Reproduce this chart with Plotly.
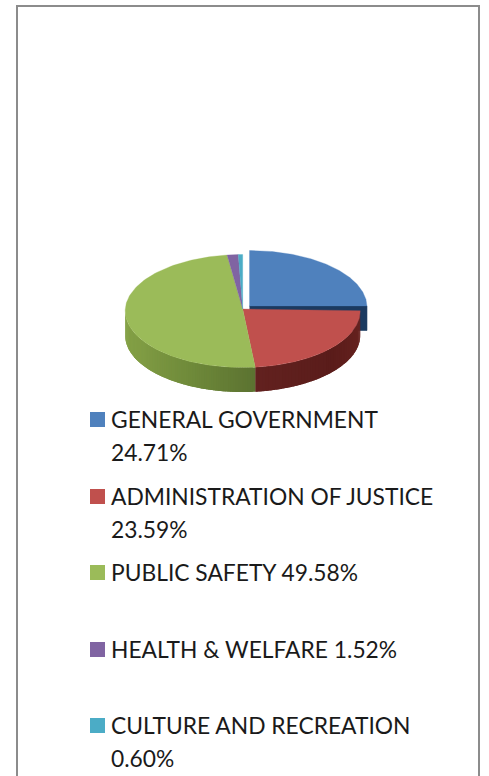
import numpy as np
import plotly.graph_objects as go

categories = ["GENERAL GOVERNMENT", "ADMINISTRATION OF JUSTICE", "PUBLIC SAFETY",
              "HEALTH & WELFARE", "CULTURE AND RECREATION"]
shares = [24.71, 23.59, 49.58, 1.52, 0.60]
top_colors = ["#4f81bd", "#c0504d", "#9bbb59", "#8064a2", "#4bacc6"]

# Pie projection, in page pixels
CX, CY, APEX_Y = 242.7, 311.0, 309.0
RX, RY = 117.5, 56.5
DEPTH = 24.5
BLUE_DX, BLUE_DY = 6.8, -4.0      # first slice is pulled out of the pie
BLUE_APEX_Y = 306.0
W, H = 489, 776

fig = go.Figure()


def rim(a0, a1, dx=0.0, dy=0.0, n=120):
    """Points on the elliptical rim; angles run clockwise from 12 o'clock."""
    t = np.radians(np.linspace(a0, a1, n))
    return CX + dx + RX * np.sin(t), CY + dy - RY * np.cos(t)


def polygon(x, y, color, edge=0.6):
    fig.add_trace(go.Scatter(x=list(x), y=list(y), mode="lines", fill="toself",
                             fillcolor=color, line=dict(color=color, width=edge),
                             hoverinfo="skip", showlegend=False))


def blend(c0, c1, f):
    a = [int(c0[i:i + 2], 16) for i in (1, 3, 5)]
    b = [int(c1[i:i + 2], 16) for i in (1, 3, 5)]
    return "rgb(%d,%d,%d)" % tuple(round(p + (q - p) * f) for p, q in zip(a, b))


def wall(a0, a1, stops, steps=40):
    """Front wall of a slice, shaded with short strips running along the rim."""
    edges = np.linspace(a0, a1, steps + 1)
    for i in range(steps):
        x, y = rim(edges[i], min(edges[i + 1] + 1.5, a1), n=10)
        f = i / max(steps - 1, 1)
        pos = f * (len(stops) - 1)
        k = min(int(pos), len(stops) - 2)
        polygon(np.r_[x, x[::-1]], np.r_[y, y[::-1] + DEPTH],
                blend(stops[k], stops[k + 1], pos - k), edge=0)


edges = 3.6 * np.cumsum([0] + shares)

# Side walls first, so the top faces sit over them
x, y = rim(edges[0], edges[1], BLUE_DX, BLUE_DY)
apex_x = CX + BLUE_DX
polygon([apex_x, x[-1], x[-1], apex_x],
        [BLUE_APEX_Y, y[-1], y[-1] + DEPTH, BLUE_APEX_Y + DEPTH], "#1b3a60")

wall(edges[1], edges[2], ["#6a2421", "#5a1c1a", "#62211f"], steps=50)
wall(edges[2], 270, ["#5c7331", "#6f8a3a", "#7f9b43", "#86a347"], steps=80)

# Top faces
for i, color in enumerate(top_colors):
    dx, dy, ay = (BLUE_DX, BLUE_DY, BLUE_APEX_Y) if i == 0 else (0.0, 0.0, APEX_Y)
    x, y = rim(edges[i], edges[i + 1], dx, dy)
    polygon(np.r_[CX + dx, x, CX + dx], np.r_[ay, y, ay], color, edge=0.3)

# Key: square swatches with wrapped labels
KEY_ROWS = [419.5, 496.5, 572.5, 649.5, 725.5]
LINE_STEP = 33.0
fig.add_trace(go.Scatter(x=[97.5] * len(categories), y=KEY_ROWS, mode="markers",
                         marker=dict(symbol="square", size=15, color=top_colors, line=dict(width=0)),
                         hoverinfo="skip", showlegend=False))
for name, value, row in zip(categories, shares, KEY_ROWS):
    label = f"{name} {value:.2f}%"
    lines = [name, f"{value:.2f}%"] if len(label) > 24 else [label]
    for j, line in enumerate(lines):
        fig.add_annotation(x=108.5, y=row - 1 + j * LINE_STEP, text=line, showarrow=False,
                           xanchor="left", yanchor="middle", align="left",
                           font=dict(family="Lato", size=22.8, color="#1a1a1a"))

fig.update_layout(
    width=W, height=H, margin=dict(l=0, r=0, t=0, b=0),
    paper_bgcolor="white", plot_bgcolor="white", showlegend=False,
    xaxis=dict(range=[0, W], visible=False, fixedrange=True),
    yaxis=dict(range=[H, 0], visible=False, fixedrange=True),
    shapes=[dict(type="rect", xref="x", yref="y", x0=17, y0=6, x1=479, y1=800,
                 line=dict(color="#8c8c8c", width=2), layer="below")],
)
fig.write_html("out.html", config=dict(displayModeBar=False))
